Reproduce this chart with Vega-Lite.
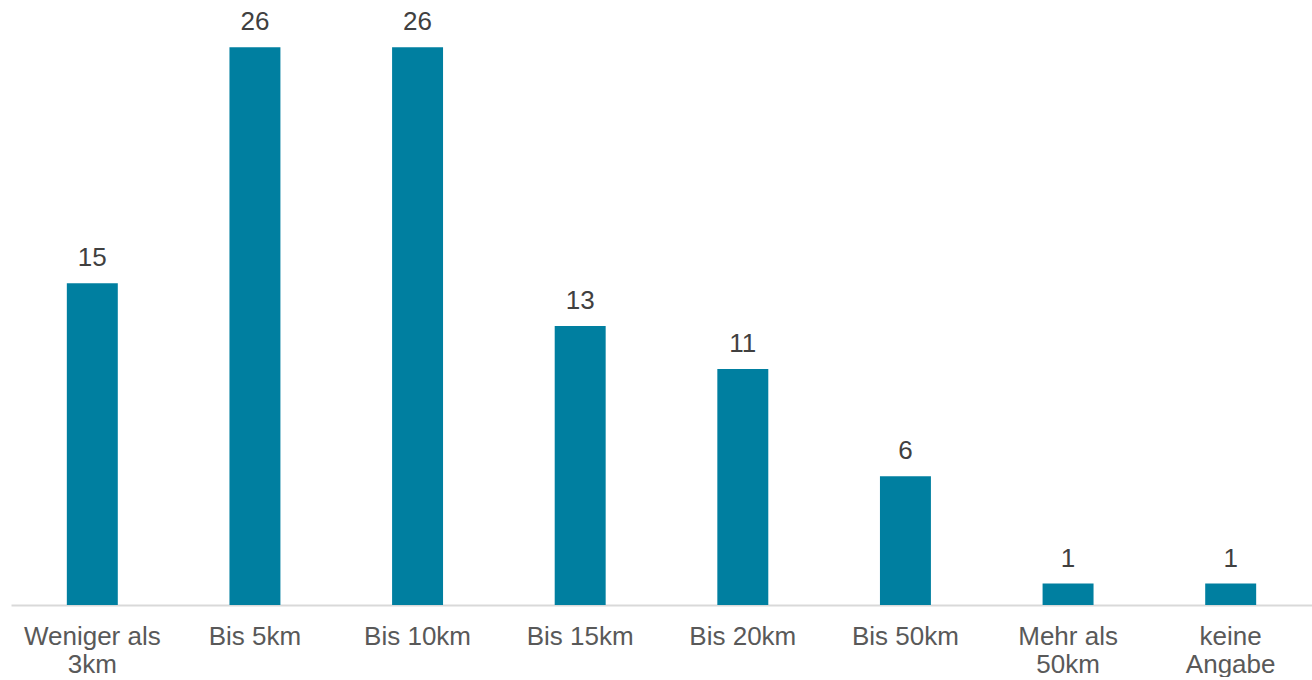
{
  "$schema": "https://vega.github.io/schema/vega-lite/v6.json",
  "width": 1301,
  "height": 605,
  "padding": {"left": 11, "top": 0, "right": 0, "bottom": 0},
  "background": "white",
  "config": {"view": {"stroke": null}, "font": "Liberation Sans"},
  "data": {
    "values": [
      {"kategorie": "Weniger als|3km", "anzahl": 15},
      {"kategorie": "Bis 5km", "anzahl": 26},
      {"kategorie": "Bis 10km", "anzahl": 26},
      {"kategorie": "Bis 15km", "anzahl": 13},
      {"kategorie": "Bis 20km", "anzahl": 11},
      {"kategorie": "Bis 50km", "anzahl": 6},
      {"kategorie": "Mehr als|50km", "anzahl": 1},
      {"kategorie": "keine|Angabe", "anzahl": 1}
    ]
  },
  "encoding": {
    "x": {
      "field": "kategorie",
      "type": "nominal",
      "sort": null,
      "scale": {"paddingInner": 0.6866, "paddingOuter": 0.3433},
      "axis": {
        "title": null,
        "labelAngle": 0,
        "labelExpr": "split(datum.value, '|')",
        "labelFont": "Liberation Sans",
        "labelFontSize": 26,
        "labelColor": "#595959",
        "labelPadding": 18,
        "labelLineHeight": 28,
        "labelBaseline": "top",
        "domainColor": "#D9D9D9",
        "domainWidth": 2,
        "ticks": false
      }
    },
    "y": {
      "field": "anzahl",
      "type": "quantitative",
      "scale": {"domain": [0, 28.2], "nice": false},
      "axis": null
    }
  },
  "layer": [
    {"mark": {"type": "bar", "color": "#007FA0"}},
    {
      "mark": {"type": "text", "baseline": "alphabetic", "dy": -17, "fontSize": 26, "color": "#404040", "font": "Liberation Sans"},
      "encoding": {"text": {"field": "anzahl", "type": "quantitative"}}
    }
  ]
}
